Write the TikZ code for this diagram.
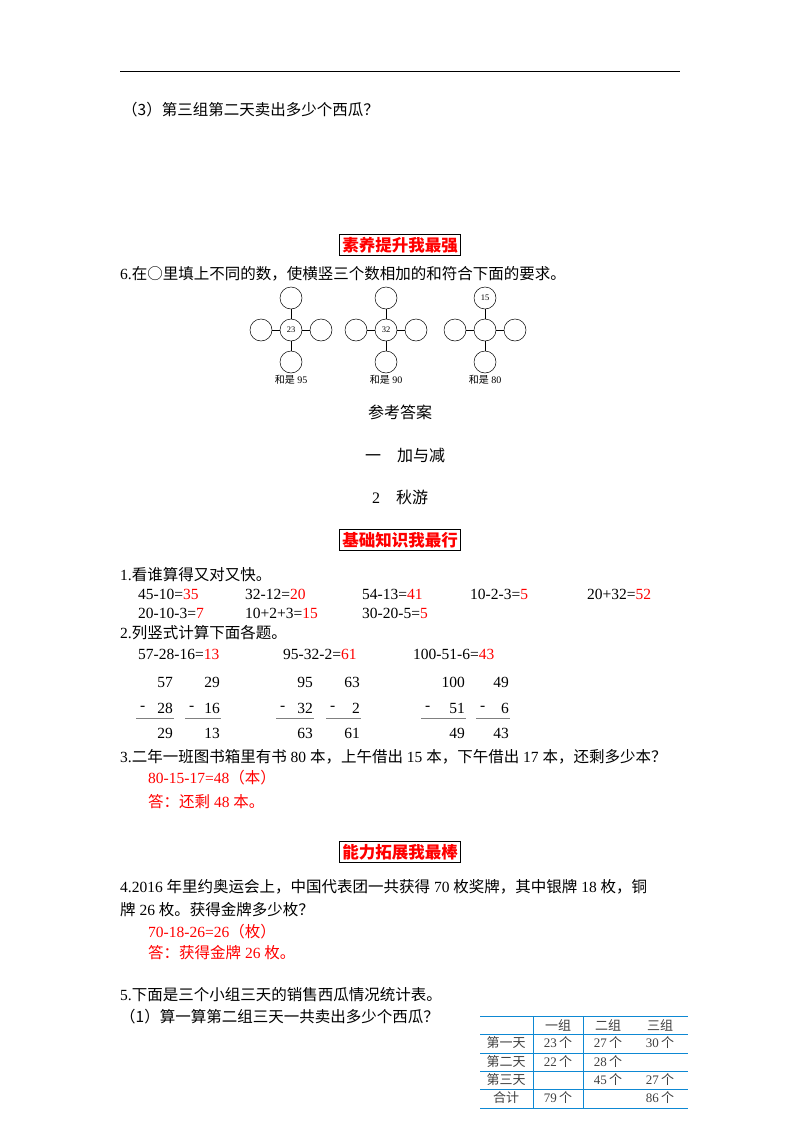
\documentclass[tikz,border=0pt]{standalone}
\usepackage{fontspec}
\setmainfont{Liberation Serif}
\newfontfamily\cjk{Noto Sans CJK SC}
\begin{document}
\begin{tikzpicture}[x=1pt,y=-1pt,
 t/.style={anchor=west,inner sep=0pt,font=\fontsize{15.5}{17}\selectfont},
 r/.style={t,text=red},
 hd/.style={draw,line width=0.9pt,inner sep=2.5pt,text=red,font=\fontsize{16.5}{18}\selectfont\cjk\bfseries},
 c/.style={circle,draw,line width=0.5pt,minimum size=22pt,inner sep=0pt,font=\fontsize{8.5}{9}\selectfont},
 lb/.style={inner sep=0pt,font=\fontsize{10}{11}\selectfont},
 tb/.style={inner sep=0pt,font=\fontsize{13}{14}\selectfont,text=black!75},
 g/.style={draw=cyan!70!blue,line width=0.8pt}]
\useasboundingbox (0,0) rectangle (800,1132);
\draw[line width=1pt] (120,72) -- (680,72);
\node[t] (q3) at (122,110) {{\cjk （3）第三组第二天卖出多少个西瓜？}};
\node[hd] (h1) at (400,245) {素养提升我最强};
\node[t] (q6) at (120,274) {6.{\cjk 在○里填上不同的数，使横竖三个数相加的和符合下面的要求。}};
\foreach \cx/\v/\tp/\s in {291/23//95, 386/32//90, 485//15/80}{
 \node[c] (m\cx) at (\cx,330) {\v};
 \node[c] (u\cx) at (\cx,298) {\tp};
 \node[c] (d\cx) at (\cx,362) {};
 \node[c] (l\cx) at (\cx-30,330) {};
 \node[c] (rr\cx) at (\cx+30,330) {};
 \draw (m\cx)--(u\cx) (m\cx)--(d\cx) (m\cx)--(l\cx) (m\cx)--(rr\cx);
 \node[lb] (s\cx) at (\cx,380) {{\cjk 和是} \s};
}
\node[inner sep=0pt,font=\fontsize{16}{18}\selectfont\cjk] (a1) at (400,412) {参考答案};
\node[inner sep=0pt,font=\fontsize{16}{18}\selectfont\cjk] (a2) at (405,455) {一\quad 加与减};
\node[inner sep=0pt,font=\fontsize{16}{18}\selectfont] (a3) at (400,497) {2\quad{\cjk 秋游}};
\node[hd] (h2) at (400,540) {基础知识我最行};
\node[t] (q1) at (120,575) {1.{\cjk 看谁算得又对又快。}};
\node[t] (e1) at (138,594) {45-10=\textcolor{red}{35}};
\node[t] (e2) at (245,594) {32-12=\textcolor{red}{20}};
\node[t] (e3) at (362,594) {54-13=\textcolor{red}{41}};
\node[t] (e4) at (470,594) {10-2-3=\textcolor{red}{5}};
\node[t] (e5) at (587,594) {20+32=\textcolor{red}{52}};
\node[t] (e6) at (138,613) {20-10-3=\textcolor{red}{7}};
\node[t] (e7) at (245,613) {10+2+3=\textcolor{red}{15}};
\node[t] (e8) at (362,613) {30-20-5=\textcolor{red}{5}};
\node[t] (q2) at (120,633) {2.{\cjk 列竖式计算下面各题。}};
\node[t] (f1) at (138,654) {57-28-16=\textcolor{red}{13}};
\node[t] (f2) at (283,654) {95-32-2=\textcolor{red}{61}};
\node[t] (f3) at (413,654) {100-51-6=\textcolor{red}{43}};
\foreach \x/\a/\b/\r/\w in {173/57/28/29/33, 220/29/16/13/31, 313/95/32/63/33, 360/63/2/61/30, 465/100/51/49/40, 509/49/6/43/29}{
 \node[anchor=east,inner sep=0pt,font=\fontsize{15.5}{17}\selectfont] (n1\x) at (\x,682) {\a};
 \node[anchor=east,inner sep=0pt,font=\fontsize{15.5}{17}\selectfont] (n2\x) at (\x,708) {\b};
 \node[anchor=east,inner sep=0pt,font=\fontsize{15.5}{17}\selectfont] (n3\x) at (\x,733) {\r};
 \node[anchor=west,inner sep=0pt,font=\fontsize{15.5}{17}\selectfont] (mi\x) at (\x-\w,708) {-};
 \draw[gray,line width=0.8pt] (\x-\w-4,718) -- (\x+1,718);
}
\node[t] (q3b) at (120,757) {3.{\cjk 二年一班图书箱里有书} 80 {\cjk 本，上午借出} 15 {\cjk 本，下午借出} 17 {\cjk 本，还剩多少本？}};
\node[r] (s3a) at (148,778) {80-15-17=48{\cjk （本）}};
\node[r] (s3b) at (148,802) {{\cjk 答：还剩} 48 {\cjk 本。}};
\node[hd] (h3) at (400,852) {能力拓展我最棒};
\node[t] (q4a) at (120,887) {4.2016 {\cjk 年里约奥运会上，中国代表团一共获得} 70 {\cjk 枚奖牌，其中银牌} 18 {\cjk 枚，铜}};
\node[t] (q4b) at (120,910) {{\cjk 牌} 26 {\cjk 枚。获得金牌多少枚？}};
\node[r] (s4a) at (148,932) {70-18-26=26{\cjk （枚）}};
\node[r] (s4b) at (148,953) {{\cjk 答：获得金牌} 26 {\cjk 枚。}};
\node[t] (q5) at (120,995) {5.{\cjk 下面是三个小组三天的销售西瓜情况统计表。}};
\node[t] (q51) at (120,1017) {{\cjk （1）算一算第二组三天一共卖出多少个西瓜？}};
\foreach \y in {1016,1034,1053,1071,1089,1108} \draw[g] (480,\y) -- (688,\y);
\foreach \x in {533,583} \draw[g] (\x,1016) -- (\x,1108);
\foreach \x/\y/\s in {558/1025/一组, 608/1025/二组, 660/1025/三组,
 506/1043/第一天, 506/1062/第二天, 506/1080/第三天, 506/1098/合计}
 \node[tb] at (\x,\y) {\cjk \s};
\foreach \x/\y/\s in {558/1043/23, 608/1043/27, 660/1043/30, 558/1062/22, 608/1062/28,
 608/1080/45, 660/1080/27, 558/1098/79, 660/1098/86}
 \node[tb] at (\x,\y) {\s\,{\cjk 个}};
\end{tikzpicture}
\end{document}
